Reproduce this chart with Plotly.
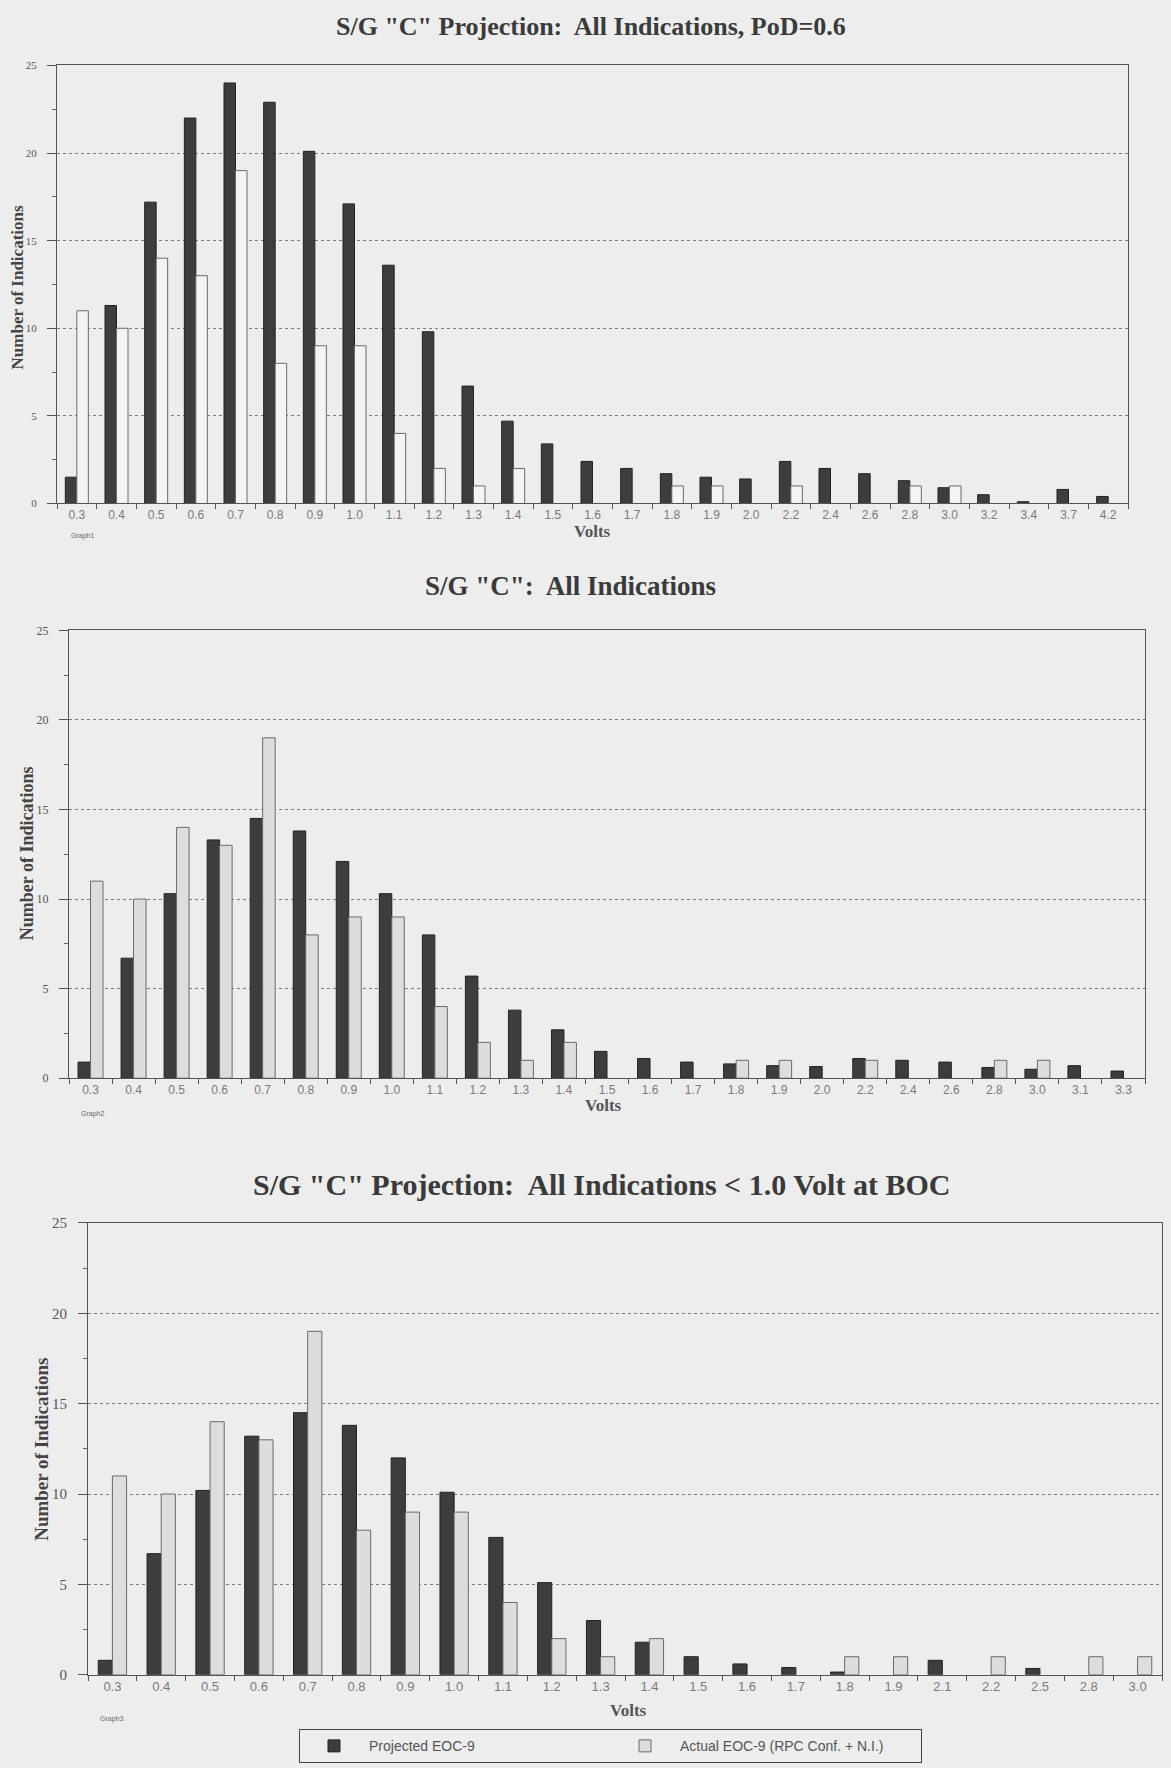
import plotly.graph_objects as go

W, H = 1171, 1768

# ---- S/G "C" Projection: All Indications, PoD=0.6
volts_pod = ["0.3", "0.4", "0.5", "0.6", "0.7", "0.8", "0.9", "1.0", "1.1", "1.2",
             "1.3", "1.4", "1.5", "1.6", "1.7", "1.8", "1.9", "2.0", "2.2", "2.4",
             "2.6", "2.8", "3.0", "3.2", "3.4", "3.7", "4.2"]
projected_pod = [1.5, 11.3, 17.2, 22.0, 24.0, 22.9, 20.1, 17.1, 13.6, 9.8,
                 6.7, 4.7, 3.4, 2.4, 2.0, 1.7, 1.5, 1.4, 2.4, 2.0,
                 1.7, 1.3, 0.9, 0.5, 0.1, 0.8, 0.4]
actual_pod = [11, 10, 14, 13, 19, 8, 9, 9, 4, 2,
              1, 2, 0, 0, 0, 1, 1, 0, 1, 0,
              0, 1, 1, 0, 0, 0, 0]

# ---- S/G "C": All Indications
volts_all = ["0.3", "0.4", "0.5", "0.6", "0.7", "0.8", "0.9", "1.0", "1.1", "1.2",
             "1.3", "1.4", "1.5", "1.6", "1.7", "1.8", "1.9", "2.0", "2.2", "2.4",
             "2.6", "2.8", "3.0", "3.1", "3.3"]
projected_all = [0.9, 6.7, 10.3, 13.3, 14.5, 13.8, 12.1, 10.3, 8.0, 5.7,
                 3.8, 2.7, 1.5, 1.1, 0.9, 0.8, 0.7, 0.65, 1.1, 1.0,
                 0.9, 0.6, 0.5, 0.7, 0.4]
actual_all = [11, 10, 14, 13, 19, 8, 9, 9, 4, 2,
              1, 2, 0, 0, 0, 1, 1, 0, 1, 0,
              0, 1, 1, 0, 0]

# ---- S/G "C" Projection: All Indications < 1.0 Volt at BOC
volts_boc = ["0.3", "0.4", "0.5", "0.6", "0.7", "0.8", "0.9", "1.0", "1.1", "1.2",
             "1.3", "1.4", "1.5", "1.6", "1.7", "1.8", "1.9", "2.1", "2.2", "2.5",
             "2.8", "3.0"]
projected_boc = [0.8, 6.7, 10.2, 13.2, 14.5, 13.8, 12.0, 10.1, 7.6, 5.1,
                 3.0, 1.8, 1.0, 0.6, 0.4, 0.15, 0, 0.8, 0, 0.35,
                 0, 0]
actual_boc = [11, 10, 14, 13, 19, 8, 9, 9, 4, 2,
              1, 2, 0, 0, 0, 1, 1, 0, 1, 0,
              1, 1]

y_ticks = [0, 5, 10, 15, 20, 25]

PAPER = "#ededed"
DARK = "#3d3d3d"
DARK_EDGE = "#222222"
SERIF = "Liberation Serif, Times New Roman, serif"
SANS = "Liberation Sans, Arial, sans-serif"

panels = [
    dict(title='S/G "C" Projection:  All Indications, PoD=0.6', title_xy=(591, 19), title_size=26,
         box=(57, 58, 1128, 500), cats=volts_pod, proj=projected_pod, act=actual_pod,
         light="#f4f4f4", ylab_x=17, ylab_y=282, ylab_size=17, ytick_size=11, xtick_size=12,
         volts_xy=(592, 528), graph_xy=(82, 533), graph="Graph1"),
    dict(title='S/G "C":  All Indications', title_xy=(570, 583), title_size=27,
         box=(69, 628, 1145, 1080), cats=volts_all, proj=projected_all, act=actual_all,
         light="#dddddd", ylab_x=27, ylab_y=853, ylab_size=18, ytick_size=12, xtick_size=12,
         volts_xy=(603, 1108), graph_xy=(92, 1116), graph="Graph2"),
    dict(title='S/G "C" Projection:  All Indications &lt; 1.0 Volt at BOC', title_xy=(601, 1187), title_size=30,
         box=(88, 1226, 1162, 1682), cats=volts_boc, proj=projected_boc, act=actual_boc,
         light="#dddddd", ylab_x=42, ylab_y=1455, ylab_size=19, ytick_size=15, xtick_size=13,
         volts_xy=(628, 1718), graph_xy=(111, 1727), graph="Graph3"),
]


def px(x):
    return x / W


def py(y):
    return 1 - y / H


def drawn(values):
    # empty bins carry no bar at all (not even an outline)
    return [v if v else None for v in values]


fig = go.Figure()
annotations = []
layout_axes = {}

for i, p in enumerate(panels, start=1):
    sfx = "" if i == 1 else str(i)
    xa, ya = "x" + sfx, "y" + sfx
    last = i == len(panels)
    fig.add_trace(go.Bar(
        x=p["cats"], y=drawn(p["proj"]), xaxis=xa, yaxis=ya, name="Projected EOC-9",
        legendgroup="proj", showlegend=last,
        marker=dict(color=DARK, line=dict(color=DARK_EDGE, width=1)),
    ))
    fig.add_trace(go.Bar(
        x=p["cats"], y=drawn(p["act"]), xaxis=xa, yaxis=ya, name="Actual EOC-9 (RPC Conf. + N.I.)",
        legendgroup="act", showlegend=last,
        marker=dict(color=p["light"], line=dict(color="#6a6a6a", width=1)),
    ))

    l, t, r, b = p["box"]
    n = len(p["cats"])
    layout_axes["xaxis" + sfx] = dict(
        domain=[px(l), px(r)], anchor=ya, type="category",
        range=[-0.5, n - 0.5], showgrid=False,
        showline=True, linecolor="#555555", linewidth=1, mirror=True,
        ticks="outside", tickson="boundaries", ticklen=5, tickcolor="#555555",
        tickfont=dict(family=SANS, size=p["xtick_size"], color="#7a7a7a"),
        fixedrange=True,
    )
    layout_axes["yaxis" + sfx] = dict(
        domain=[py(b), py(t)], anchor=xa, range=[0, 25],
        tickvals=y_ticks, showgrid=True, gridcolor="#7d7d7d", gridwidth=1, griddash="dot",
        showline=True, linecolor="#555555", linewidth=1, mirror=True,
        ticks="outside", ticklen=9, tickcolor="#555555",
        minor=dict(dtick=2.5, ticks="outside", ticklen=4, tickcolor="#666666", showgrid=False),
        tickfont=dict(family=SERIF, size=p["ytick_size"], color="#555555"),
        ticklabelstandoff=8, zeroline=False, fixedrange=True,
    )

    annotations.append(dict(
        text="<b>" + p["title"] + "</b>", x=px(p["title_xy"][0]), y=py(p["title_xy"][1]),
        xref="paper", yref="paper", xanchor="center", yanchor="middle", showarrow=False,
        font=dict(family=SERIF, size=p["title_size"], color="#3a3a3a"),
    ))
    annotations.append(dict(
        text="<b>Number of Indications</b>", x=px(p["ylab_x"]), y=py(p["ylab_y"]),
        xref="paper", yref="paper", xanchor="center", yanchor="middle", showarrow=False,
        textangle=-90, font=dict(family=SERIF, size=p["ylab_size"], color="#444444"),
    ))
    annotations.append(dict(
        text="<b>Volts</b>", x=px(p["volts_xy"][0]), y=py(p["volts_xy"][1]),
        xref="paper", yref="paper", xanchor="center", yanchor="middle", showarrow=False,
        font=dict(family=SERIF, size=17, color="#555555"),
    ))
    annotations.append(dict(
        text=p["graph"], x=px(p["graph_xy"][0]), y=py(p["graph_xy"][1]),
        xref="paper", yref="paper", xanchor="center", yanchor="middle", showarrow=False,
        font=dict(family=SANS, size=7, color="#666666"),
    ))

fig.update_layout(
    width=W, height=H,
    margin=dict(l=0, r=0, t=0, b=0),
    paper_bgcolor=PAPER, plot_bgcolor=PAPER,
    barmode="group", bargap=0.42, bargroupgap=0.0,
    annotations=annotations,
    showlegend=True,
    legend=dict(
        orientation="h", x=px(299), y=py(1737), xanchor="left", yanchor="top",
        bgcolor=PAPER, bordercolor="#444444", borderwidth=1,
        entrywidth=236, entrywidthmode="pixels", itemwidth=60,
        font=dict(family=SANS, size=14, color="#555555"),
        tracegroupgap=0,
    ),
    **layout_axes,
)

fig.write_html("out.html")
